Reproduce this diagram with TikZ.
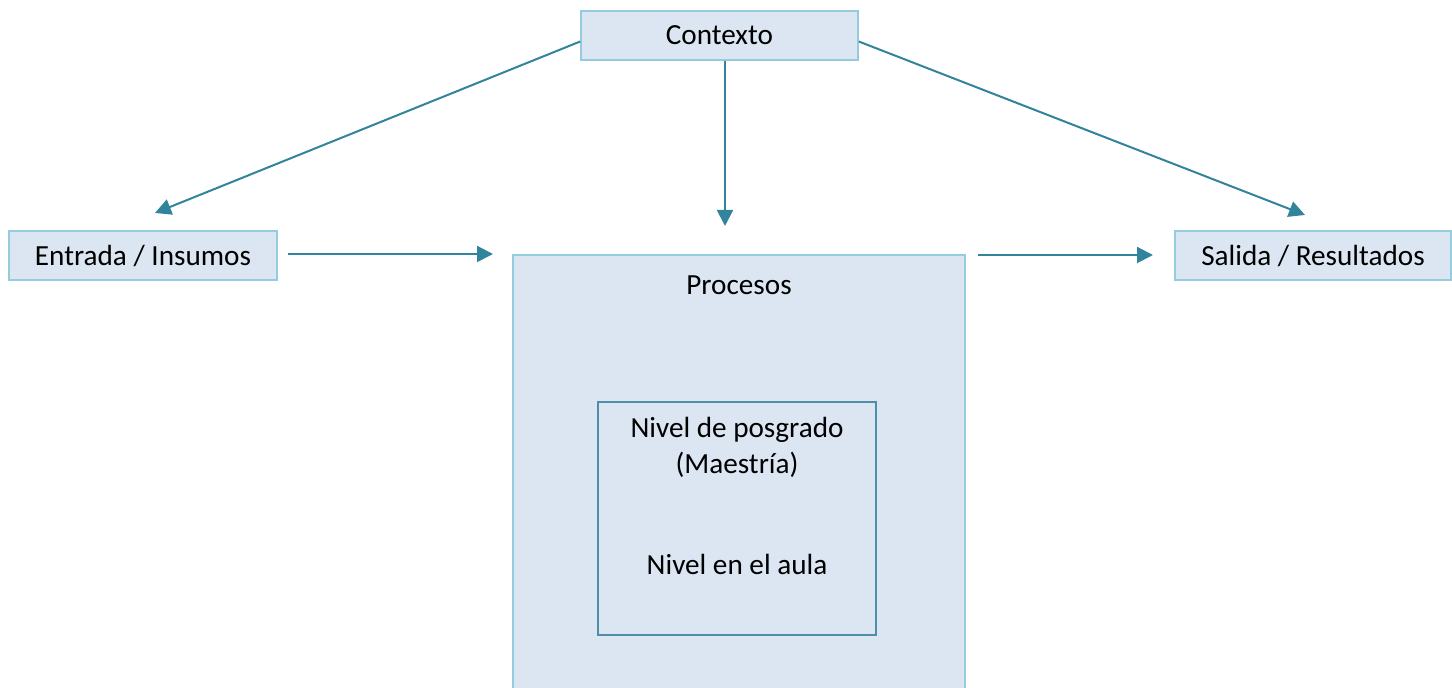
\documentclass[tikz,border=0pt]{standalone}
\usepackage{fontspec}
\setmainfont{Carlito}
\usetikzlibrary{arrows.meta}

\definecolor{boxfill}{HTML}{DCE6F2}
\definecolor{boxline}{HTML}{93CDDD}
\definecolor{innerline}{HTML}{4F8FA6}
\definecolor{arrowcol}{HTML}{31849B}

\tikzset{
  box/.style={draw=boxline,fill=boxfill,line width=0.8pt,inner sep=0pt},
  flow/.style={-{Triangle[length=8pt,width=8pt]},draw=arrowcol,line width=1pt}
}

\begin{document}
\begin{tikzpicture}[x=0.5pt,y=-0.5pt,font=\fontsize{14.6}{17.5}\selectfont]
\useasboundingbox (0,0) rectangle (1452,688);

\node[box,minimum width=138.5pt,minimum height=24.5pt](ctx) at (719.5,35.5){Contexto};
\node[box,minimum width=134pt,minimum height=24.5pt](ent) at (143,255.5){Entrada / Insumos};
\node[box,minimum width=138pt,minimum height=24.5pt](sal) at (1313,255.5){Salida / Resultados};
\node[box,minimum width=226pt,minimum height=230pt](proc) at (739,485){};
\node(proctxt) at (739,285){Procesos};
\node[box,draw=innerline,minimum width=139pt,minimum height=116.5pt](niv) at (737,518.5){};
\node(pos) at (737,430){Nivel de posgrado};
\node(mae) at (737,465){(Maestría)};
\node(aula) at (737,564){Nivel en el aula};

\coordinate(tipent) at (155,213);
\coordinate(tipproc) at (725,226);
\coordinate(tipsal) at (1305,215);
\coordinate(inproc) at (493,254);
\coordinate(outproc) at (978,255);
\coordinate(insal) at (1153,255);

\path([yshift=-3pt]ctx.west)edge[flow](tipent)
	([xshift=2.75pt]ctx.south)edge[flow](tipproc)
	([yshift=-3pt]ctx.east)edge[flow](tipsal)
	([xshift=5pt,yshift=0.75pt]ent.east)edge[flow](inproc)
	(outproc)edge[flow](insal);

\end{tikzpicture}
\end{document}
